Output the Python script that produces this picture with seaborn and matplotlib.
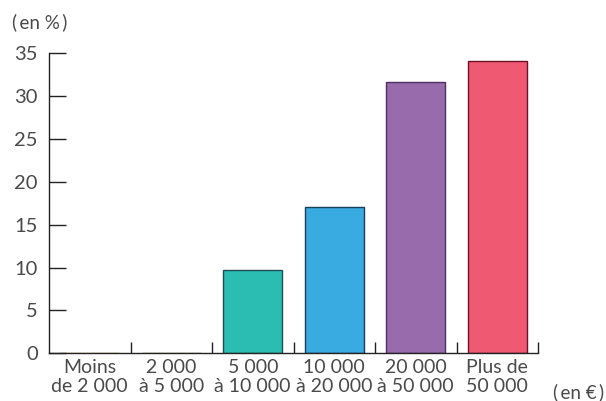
import matplotlib
matplotlib.use("Agg")
import matplotlib.pyplot as plt
import seaborn as sns
import pandas as pd

categories = ["Moins\nde 2 000", "2 000\nà 5 000", "5 000\nà 10 000", "10 000\nà 20 000", "20 000\nà 50 000", "Plus de\n50 000"]
values = [0.0, 0.0, 9.7, 17.1, 31.7, 34.1]
colors = ["#e8c53a", "#8fbf4a", "#2bbdb2", "#3aabe0", "#976bac", "#ef5a72"]
edges = ["#8a7a20", "#4a6a2a", "#1f4d5a", "#173f5c", "#4f3060", "#6e1028"]
yticks = [0, 5, 10, 15, 20, 25, 30, 35]

sns.set_style("white")
plt.rcParams['font.family'] = ['Lato', 'DejaVu Sans']
text_color = "#4a4a4a"

df = pd.DataFrame({"cat": categories, "val": values})

fig = plt.figure(figsize=(6.06, 4.01), dpi=100)
ax = fig.add_axes([49/606, 1-353.3/401, (538-49)/606, (353.3-53.3)/401])
sns.barplot(data=df, x="cat", y="val", hue="cat", palette=colors, legend=False,
            width=0.727, ax=ax, saturation=1)
for p, ec in zip(ax.patches, edges):
    p.set_edgecolor(ec)
    p.set_linewidth(1.0)

ax.set_xlim(-0.5, 5.5)
ax.set_ylim(0, 35)
ax.set_yticks(yticks)
ax.set_yticklabels([str(t) for t in yticks])
ax.set_xticks([i + 0.5 for i in range(6)])
ax.set_xticklabels([])
ax.set_xticks(range(6), minor=True)
ax.set_xticklabels(categories, minor=True, fontsize=14, color=text_color, linespacing=1.12)
ax.tick_params(axis="x", which="minor", bottom=False, length=0, pad=4)
ax.tick_params(axis="x", which="major", bottom=True, direction="in", length=8, width=1, color="#222222")
ax.tick_params(axis="y", left=True, direction="in", length=12, width=1, color="#222222",
               labelsize=14.5, labelcolor=text_color, pad=8)
ax.set_xlabel("")
ax.set_ylabel("")
for s in ["top", "right"]:
    ax.spines[s].set_visible(False)
for s in ["left", "bottom"]:
    ax.spines[s].set_color("#222222")
    ax.spines[s].set_linewidth(1.0)

fig.text(12/606, 1-22/401, "(\u2009en %\u2009)", fontsize=13.5, color=text_color, va="center", ha="left")
fig.text(604/606, 1-392/401, "(\u2009en €\u2009)", fontsize=13.5, color=text_color, va="center", ha="right")

fig.savefig("out.png", dpi=100, facecolor="white")
